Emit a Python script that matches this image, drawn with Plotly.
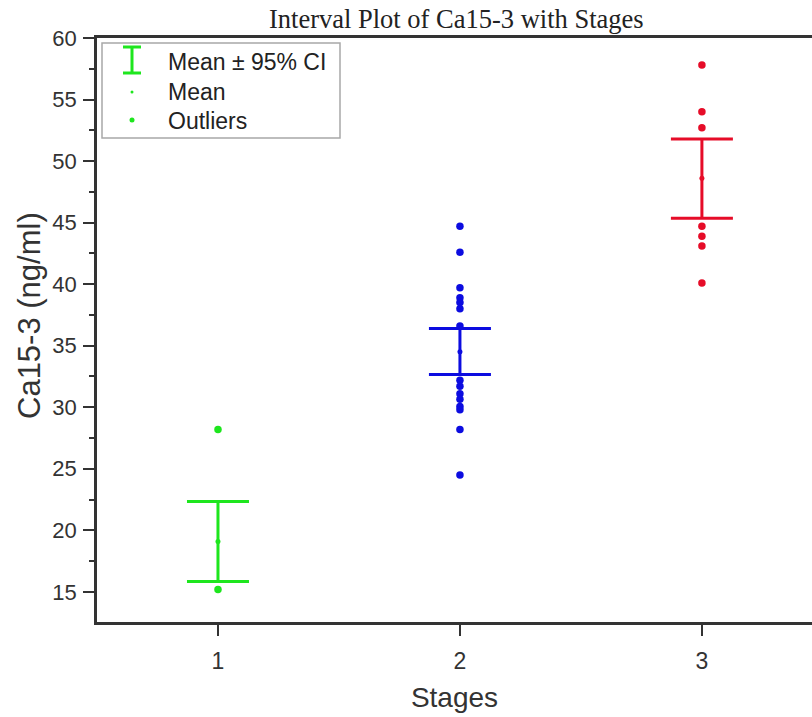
import plotly.graph_objects as go

stages = [1, 2, 3]
means = [19.1, 34.5, 48.6]
ci_low = [15.85, 32.65, 45.35]
ci_high = [22.35, 36.4, 51.8]
colors = ["#1ee61e", "#0c0ce0", "#e60c28"]
points = [
    [28.2, 15.2],
    [44.7, 42.6, 39.7, 38.9, 38.5, 38.0, 36.6, 32.2, 31.7, 31.1, 30.65, 30.05, 29.8, 28.2, 24.5],
    [57.8, 54.0, 52.7, 44.7, 43.9, 43.1, 40.1],
]

fig = go.Figure()
for s, m, lo, hi, c, pts in zip(stages, means, ci_low, ci_high, colors, points):
    fig.add_trace(go.Scatter(
        x=[s] * len(pts), y=pts, mode="markers",
        marker=dict(color=c, size=7.5, symbol="circle"), showlegend=False))
    fig.add_trace(go.Scatter(
        x=[s], y=[m], mode="markers",
        marker=dict(color=c, size=5),
        error_y=dict(type="data", symmetric=False, array=[hi - m], arrayminus=[m - lo],
                     color=c, thickness=3, width=31),
        showlegend=False))

L, R, T, B = 97, 812, 38, 622
def px(x):
    return (x - L) / (R - L)
def py(y):
    return (B - y) / (B - T)

g = colors[0]
shapes = [
    dict(type="rect", xref="paper", yref="paper", x0=px(102), x1=px(340), y0=py(43), y1=py(138),
         line=dict(color="#a8a8a8", width=1.5), fillcolor="white"),
    dict(type="line", xref="paper", yref="paper", x0=px(132), x1=px(132), y0=py(47), y1=py(73),
         line=dict(color=g, width=3)),
    dict(type="line", xref="paper", yref="paper", x0=px(123), x1=px(141), y0=py(47), y1=py(47),
         line=dict(color=g, width=3)),
    dict(type="line", xref="paper", yref="paper", x0=px(123), x1=px(141), y0=py(73), y1=py(73),
         line=dict(color=g, width=3)),
    dict(type="circle", xref="paper", yref="paper", x0=px(130.5), x1=px(133.5), y0=py(90.5), y1=py(93.5),
         fillcolor=g, line=dict(width=0)),
    dict(type="circle", xref="paper", yref="paper", x0=px(129.5), x1=px(134.5), y0=py(117.5), y1=py(122.5),
         fillcolor=g, line=dict(width=0)),
]
legend_texts = ["Mean ± 95% CI", "Mean", "Outliers"]
legend_y = [62, 92, 121]
annotations = [
    dict(text=t, xref="paper", yref="paper", x=px(166), y=py(yy), xanchor="left", yanchor="middle",
         showarrow=False, font=dict(family="Liberation Sans, Arial", size=23, color="#222"))
    for t, yy in zip(legend_texts, legend_y)
]
annotations.append(dict(text="Interval Plot of Ca15-3 with Stages", xref="paper", yref="paper",
                        x=px(456), y=py(19), xanchor="center", yanchor="middle", showarrow=False,
                        font=dict(family="Liberation Serif, Times New Roman", size=26.5, color="#222")))
annotations.append(dict(text="Ca15-3 (ng/ml)", xref="paper", yref="paper",
                        x=px(29), y=py(316), xanchor="center", yanchor="middle", showarrow=False,
                        textangle=-90,
                        font=dict(family="Liberation Sans, Arial", size=31, color="#333")))

fig.update_layout(
    width=812, height=717,
    margin=dict(l=L, r=812 - R, t=T, b=717 - B),
    paper_bgcolor="white", plot_bgcolor="white",
    shapes=shapes, annotations=annotations, showlegend=False,
    font=dict(family="Liberation Sans, Arial", color="#333"),
)
fig.update_xaxes(
    range=[0.5, 3.455], tickvals=stages, ticktext=[str(s) for s in stages],
    showgrid=False, zeroline=False, showline=True, linecolor="#333", linewidth=2.5, mirror=True,
    ticks="outside", ticklen=11, tickwidth=1.5, tickcolor="#333",
    tickfont=dict(size=23, color="#333"), ticklabelstandoff=6,
    title=dict(text="Stages", font=dict(size=28, color="#333"), standoff=15),
)
fig.update_yaxes(
    range=[12.55, 60], tickvals=[15, 20, 25, 30, 35, 40, 45, 50, 55, 60],
    showgrid=False, zeroline=False, showline=True, linecolor="#333", linewidth=2.5,
    ticks="outside", ticklen=11, tickwidth=1.5, tickcolor="#333",
    tickfont=dict(size=22, color="#333"), ticklabelstandoff=2,
    minor=dict(tickvals=[12.5, 17.5, 22.5, 27.5, 32.5, 37.5, 42.5, 47.5, 52.5, 57.5],
               ticks="outside", ticklen=5, tickwidth=1.5, tickcolor="#333"),
)

fig.write_html("out.html")
